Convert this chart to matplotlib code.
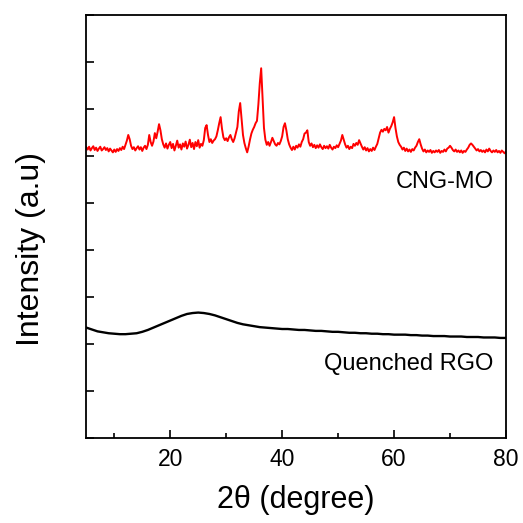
import numpy as np
import matplotlib
matplotlib.use("AGG")
import matplotlib.pyplot as plt
from matplotlib.ticker import MultipleLocator, NullFormatter

plt.rcParams['font.family'] = ['Liberation Sans', 'DejaVu Sans']

# CNG-MO pattern, read every 0.25 deg (one row per degree: d, d+.25, d+.5, d+.75)
cng_mo = [
    6.19, 6.14, 6.20, 6.12,  # 5
    6.17, 6.21, 6.13, 6.18,  # 6
    6.11, 6.16, 6.20, 6.12,  # 7
    6.15, 6.19, 6.13, 6.17,  # 8
    6.10, 6.16, 6.12, 6.08,  # 9
    6.14, 6.09, 6.15, 6.11,  # 10
    6.17, 6.13, 6.20, 6.15,  # 11
    6.24, 6.33, 6.45, 6.36,  # 12
    6.22, 6.15, 6.19, 6.12,  # 13
    6.17, 6.21, 6.14, 6.19,  # 14
    6.11, 6.18, 6.22, 6.15,  # 15
    6.24, 6.45, 6.30, 6.22,  # 16
    6.31, 6.49, 6.38, 6.52,  # 17
    6.68, 6.55, 6.36, 6.25,  # 18
    6.18, 6.27, 6.16, 6.24,  # 19
    6.30, 6.17, 6.26, 6.12,  # 20
    6.22, 6.33, 6.18, 6.25,  # 21
    6.14, 6.27, 6.20, 6.31,  # 22
    6.16, 6.24, 6.35, 6.19,  # 23
    6.28, 6.15, 6.30, 6.21,  # 24
    6.34, 6.18, 6.26, 6.22,  # 25
    6.34, 6.60, 6.66, 6.45,  # 26
    6.30, 6.36, 6.28, 6.33,  # 27
    6.36, 6.42, 6.55, 6.70,  # 28
    6.83, 6.58, 6.40, 6.34,  # 29
    6.38, 6.32, 6.40, 6.45,  # 30
    6.36, 6.30, 6.38, 6.50,  # 31
    6.62, 6.95, 7.13, 6.78,  # 32
    6.45, 6.28, 6.17, 6.08,  # 33
    6.20, 6.35, 6.48, 6.56,  # 34
    6.62, 6.70, 6.75, 7.10,  # 35
    7.55, 7.87, 7.25, 6.60,  # 36
    6.35, 6.24, 6.30, 6.22,  # 37
    6.30, 6.39, 6.32, 6.25,  # 38
    6.22, 6.28, 6.25, 6.32,  # 39
    6.42, 6.62, 6.70, 6.55,  # 40
    6.36, 6.25, 6.18, 6.13,  # 41
    6.20, 6.14, 6.22, 6.18,  # 42
    6.25, 6.20, 6.30, 6.36,  # 43
    6.48, 6.50, 6.55, 6.30,  # 44
    6.22, 6.27, 6.19, 6.24,  # 45
    6.17, 6.23, 6.18, 6.25,  # 46
    6.19, 6.15, 6.22, 6.17,  # 47
    6.21, 6.16, 6.24, 6.18,  # 48
    6.14, 6.20, 6.17, 6.23,  # 49
    6.19, 6.26, 6.33, 6.45,  # 50
    6.35, 6.25, 6.18, 6.22,  # 51
    6.15, 6.20, 6.17, 6.26,  # 52
    6.22, 6.28, 6.24, 6.34,  # 53
    6.27, 6.20, 6.14, 6.19,  # 54
    6.12, 6.17, 6.10, 6.15,  # 55
    6.11, 6.18, 6.13, 6.20,  # 56
    6.26, 6.38, 6.50, 6.56,  # 57
    6.52, 6.58, 6.55, 6.62,  # 58
    6.50, 6.58, 6.64, 6.72,  # 59
    6.83, 6.60, 6.42, 6.30,  # 60
    6.24, 6.20, 6.14, 6.18,  # 61
    6.11, 6.16, 6.10, 6.14,  # 62
    6.09, 6.15, 6.12, 6.18,  # 63
    6.22, 6.30, 6.36, 6.25,  # 64
    6.16, 6.10, 6.14, 6.08,  # 65
    6.12, 6.09, 6.13, 6.07,  # 66
    6.11, 6.08, 6.12, 6.09,  # 67
    6.13, 6.07, 6.11, 6.09,  # 68
    6.14, 6.10, 6.16, 6.18,  # 69
    6.22, 6.18, 6.13, 6.10,  # 70
    6.14, 6.09, 6.12, 6.08,  # 71
    6.12, 6.07, 6.11, 6.09,  # 72
    6.14, 6.18, 6.24, 6.27,  # 73
    6.24, 6.20, 6.16, 6.12,  # 74
    6.15, 6.10, 6.13, 6.09,  # 75
    6.12, 6.08, 6.14, 6.10,  # 76
    6.16, 6.11, 6.08, 6.12,  # 77
    6.09, 6.13, 6.08, 6.11,  # 78
    6.07, 6.12, 6.09, 6.06,  # 79
    6.10,                    # 80
]
two_theta_red = np.linspace(5, 80, len(cng_mo))

# Quenched RGO, read every 1 deg from 5 to 80
rgo = [
    2.35, 2.31, 2.27, 2.25, 2.23, 2.22, 2.21, 2.21, 2.22, 2.23,  # 5-14
    2.26, 2.30, 2.35, 2.40, 2.45, 2.50, 2.55, 2.60, 2.64, 2.66,  # 15-24
    2.67, 2.66, 2.64, 2.61, 2.57, 2.53, 2.49, 2.45, 2.42, 2.40,  # 25-34
    2.38, 2.36, 2.35, 2.34, 2.33, 2.32, 2.32, 2.31, 2.30, 2.30,  # 35-44
    2.29, 2.28, 2.28, 2.27, 2.26, 2.26, 2.25, 2.24, 2.24, 2.23,  # 45-54
    2.23, 2.22, 2.22, 2.21, 2.21, 2.20, 2.20, 2.20, 2.19, 2.19,  # 55-64
    2.18, 2.18, 2.17, 2.17, 2.17, 2.16, 2.16, 2.16, 2.15, 2.15,  # 65-74
    2.15, 2.14, 2.14, 2.14, 2.13, 2.13,                          # 75-80
]
two_theta_black = np.linspace(5, 80, len(rgo))

labels = ['CNG-MO', 'Quenched RGO']
label_x = [69.1, 62.6]
label_y = [5.32, 1.45]

fig = plt.figure(figsize=(5.23, 5.23), dpi=100)
ax = fig.add_axes([0.165, 0.1625, 0.8025, 0.8085])

ax.plot(two_theta_red, cng_mo, color='#ff0000', lw=1.4)
ax.plot(two_theta_black, rgo, color='black', lw=1.7)

for t, x, y in zip(labels, label_x, label_y):
    ax.text(x, y, t, ha='center', va='baseline', fontsize=17)

ax.set_xlim(5, 80)
ax.set_ylim(0, 9)
ax.xaxis.set_major_locator(MultipleLocator(20))
ax.xaxis.set_minor_locator(MultipleLocator(10))
ax.yaxis.set_major_locator(MultipleLocator(1))
ax.yaxis.set_major_formatter(NullFormatter())
ax.tick_params(axis='both', which='major', direction='in', length=6, width=1.2,
               labelsize=16.5, pad=7)
ax.tick_params(axis='x', which='minor', direction='in', length=3.5, width=1.2)
for s in ax.spines.values():
    s.set_linewidth(1.3)

ax.set_xlabel(u'2\u03b8 (degree)', fontsize=22)
ax.set_ylabel('Intensity (a.u)', fontsize=23)
ax.yaxis.set_label_coords(-0.097, 0.447)
ax.xaxis.set_label_coords(0.5, -0.112)

fig.savefig('out.png', dpi=100)
